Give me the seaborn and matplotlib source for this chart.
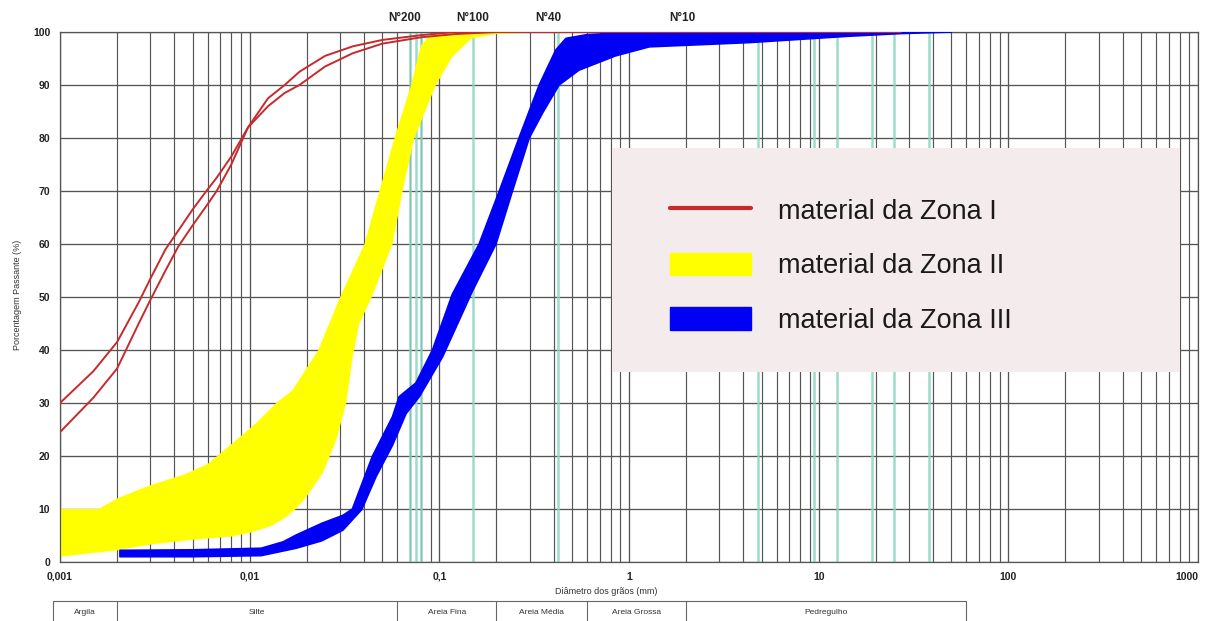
import numpy as np
import matplotlib
matplotlib.use("Agg")
import matplotlib.pyplot as plt
import matplotlib.transforms as mtransforms
from matplotlib.lines import Line2D
from matplotlib.patches import Patch, Rectangle
import seaborn as sns

# ---- Zona I: two grading curves (diameter in mm, % passing)
red_d = [0.001, 0.0015, 0.002, 0.0026, 0.003, 0.0036, 0.0042, 0.005, 0.006,
         0.0067, 0.008, 0.0098, 0.0125, 0.0153, 0.0183, 0.025, 0.035, 0.05,
         0.08, 0.12, 0.2, 27]
red_a = [30, 36, 41.5, 49, 53.5, 59, 62.5, 66.5, 70.3, 72.5, 76.5, 82, 86,
         88.5, 90, 93.5, 96, 97.8, 99, 99.6, 100, 100]
red_b = [24.5, 31, 36.5, 45, 49.5, 55, 59.5, 63.5, 67.5, 70, 75, 82, 87.5,
         90, 92.5, 95.5, 97.3, 98.5, 99.4, 100, 100, 100]

# ---- Zona II: envelope (upper = finer limit, lower = coarser limit)
yel_up_d = [0.001, 0.0016, 0.002, 0.003, 0.0045, 0.006, 0.0085, 0.0108,
            0.0138, 0.0168, 0.023, 0.030, 0.0403, 0.0483, 0.058, 0.071,
            0.080, 0.09, 0.12, 0.6]
yel_up_p = [10, 10, 12, 14.5, 16.5, 18.5, 23, 26.2, 30, 32.4, 40, 50, 60,
            70, 80, 90, 97.5, 99.5, 100, 100]
yel_lo_d = [0.001, 0.002, 0.003, 0.005, 0.008, 0.01, 0.013, 0.0156, 0.0175,
            0.0199, 0.0243, 0.0286, 0.0323, 0.0349, 0.0379, 0.044, 0.0567,
            0.064, 0.0738, 0.096, 0.117, 0.148, 0.2, 0.4, 0.6]
yel_lo_p = [1, 2.2, 3.3, 4.2, 4.8, 5.5, 6.8, 8.5, 10, 12.3, 16.8, 23, 30,
            38.7, 45, 50, 60, 70, 80, 90, 95.3, 98.8, 99.6, 100, 100]

# ---- Zona III: envelope
blu_up_d = [0.00207, 0.005, 0.0115, 0.015, 0.0176, 0.024, 0.031, 0.0348,
            0.0443, 0.0566, 0.0614, 0.0753, 0.092, 0.117, 0.162, 0.207,
            0.263, 0.336, 0.411, 0.465, 0.6, 1.0, 50]
blu_up_p = [2.2, 2.3, 2.6, 3.8, 5.1, 7.3, 8.8, 10, 19.9, 27.4, 31.2, 33.8,
            40, 50.5, 60, 70, 80, 90, 96.6, 98.8, 99.5, 99.9, 100]
blu_lo_d = [0.00207, 0.005, 0.0115, 0.0176, 0.024, 0.031, 0.039, 0.0464,
            0.0566, 0.0668, 0.0785, 0.104, 0.149, 0.199, 0.243, 0.298, 0.35,
            0.428, 0.545, 0.85, 1.28, 4.3, 14.4, 27, 50]
blu_lo_p = [1.0, 1.0, 1.2, 2.6, 4.0, 6.0, 9.9, 16.1, 22, 28, 31.2, 38.7,
            51, 60, 70, 80, 84.7, 90, 92.8, 95.5, 97.2, 98, 99.2, 99.7, 100]

# ---- sieve openings (mm) marked with vertical lines
sieve_mm = [0.07, 0.075, 0.08, 0.15, 0.42, 4.76, 9.5, 12.5, 19, 25, 38]
sieve_names = ["N°200", "N°100", "N°40", "N°10"]
sieve_name_mm = [0.075, 0.15, 0.42, 2.0]
sieve_name_dx = [-11, 0, -9, -4]   # pixel nudges of the labels

# ---- soil classification strip
class_edges = [0.00092, 0.002, 0.06, 0.2, 0.6, 2.0, 60]
class_names = ["Argila", "Silte", "Areia Fina", "Areia Média",
               "Areia Grossa", "Pedregulho"]

x_ticks = [0.001, 0.01, 0.1, 1, 10, 100, 1000]
x_ticklabels = ["0,001", "0,01", "0,1", "1", "10", "100", "1000"]
y_ticks = list(range(0, 101, 10))

legend_labels = ["material da Zona I", "material da Zona II",
                 "material da Zona III"]

sns.set_style("white")
plt.rcParams["font.family"] = ["Liberation Sans", "DejaVu Sans"]

W, H = 1207, 621
fig = plt.figure(figsize=(W / 100, H / 100), dpi=100)
ax = fig.add_axes([60 / W, 1 - 562 / H, (1198 - 60) / W, (562 - 32) / H])
ax.set_xscale("log")

GRID = "#555555"
ax.set_axisbelow(True)
ax.grid(which="major", axis="both", color=GRID, lw=0.95)
ax.grid(which="minor", axis="x", color=GRID, lw=0.85)

for d in sieve_mm:
    ax.axvline(d, color="#8ad6c1", lw=1.8, alpha=0.85, zorder=1)

# bands drawn as closed polygons: upper edge out, lower edge back
ax.fill(np.r_[yel_up_d, yel_lo_d[::-1]], np.r_[yel_up_p, yel_lo_p[::-1]],
        color="#ffff00", lw=0, zorder=2)
ax.fill(np.r_[blu_up_d, blu_lo_d[::-1]], np.r_[blu_up_p, blu_lo_p[::-1]],
        facecolor="#0000f5", edgecolor="#0000f5", lw=1.2,
        joinstyle="round", zorder=3)

RED = "#c62a2e"
sns.lineplot(x=red_d, y=red_a, ax=ax, color=RED, lw=1.4, estimator=None,
             sort=False, zorder=4)
sns.lineplot(x=red_d, y=red_b, ax=ax, color=RED, lw=1.4, estimator=None,
             sort=False, zorder=4)

ax.set_xlim(0.001, 1000)
ax.set_ylim(0, 100)
ax.set_xticks(x_ticks)
ax.set_xticklabels(x_ticklabels)
ax.set_yticks(y_ticks)
ax.xaxis.set_minor_formatter(matplotlib.ticker.NullFormatter())
ax.tick_params(axis="both", which="major", labelsize=7.5, length=4,
               color=GRID, labelcolor="#222222", pad=3, width=0.9)
ax.tick_params(axis="x", which="minor", length=0)
for lab in ax.get_xticklabels() + ax.get_yticklabels():
    lab.set_fontweight("bold")
ax.get_xticklabels()[-1].set_ha("right")
ax.set_xlabel("")
ax.set_ylabel("")
for s in ax.spines.values():
    s.set_color(GRID)
    s.set_linewidth(0.9)

fig.text(606 / W, 1 - 591 / H, "Diâmetro dos grãos (mm)", ha="center",
         va="center", fontsize=6.5, color="#333333")
fig.text(18 / W, 1 - 295 / H, "Porcentagem Passante (%)", ha="center",
         va="center", rotation=90, fontsize=6.5, color="#333333")

for name, d, dx in zip(sieve_names, sieve_name_mm, sieve_name_dx):
    ax.annotate(name, xy=(d, 1), xycoords=("data", "axes fraction"),
                xytext=(dx, 14), textcoords="offset pixels", ha="center",
                va="center", fontsize=8.5, fontweight="bold",
                color="#222222", annotation_clip=False)

# classification strip under the x axis
blend = mtransforms.blended_transform_factory(ax.transData, fig.transFigure)
y_top = 1 - 601 / H
fig.add_artist(Line2D([class_edges[0], class_edges[-1]], [y_top, y_top],
                      transform=blend, color="#666666", lw=0.8))
for e in class_edges:
    fig.add_artist(Line2D([e, e], [y_top, 0], transform=blend,
                          color="#666666", lw=0.8))
for lo, hi, name in zip(class_edges[:-1], class_edges[1:], class_names):
    fig.text(np.sqrt(lo * hi), 1 - 613 / H, name, transform=blend,
             ha="center", va="center", fontsize=6, color="#333333")

# legend panel background
fig.add_artist(Rectangle((612 / W, 1 - 372 / H), (1180 - 612) / W,
                         (372 - 148) / H, transform=fig.transFigure,
                         facecolor="#f4ecec", edgecolor="none", zorder=5))

handles = [Line2D([], [], color=RED, lw=3),
           Patch(facecolor="#ffff00", edgecolor="#ffff00"),
           Patch(facecolor="#0000f5", edgecolor="#0000f5")]
leg = fig.legend(handles, legend_labels, loc="upper left",
                 bbox_to_anchor=(620 / W, 1 - 148 / H),
                 fontsize=19.5, borderpad=1.85,
                 labelspacing=1.03, handlelength=3.0, handleheight=0.9,
                 handletextpad=1.0, frameon=False, borderaxespad=0)
leg.set_zorder(6)
for t in leg.get_texts():
    t.set_color("#1a1a1a")

fig.savefig("out.png", dpi=100)
